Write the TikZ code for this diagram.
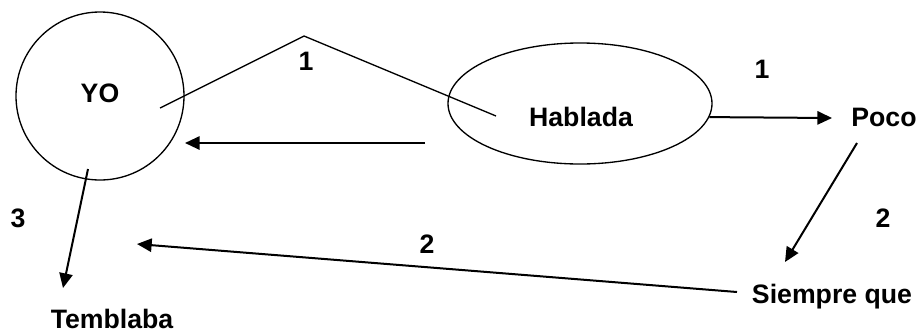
\documentclass[tikz,border=0pt]{standalone}
\usepackage{fontspec}
\setmainfont{Liberation Sans}
\usetikzlibrary{arrows.meta,shapes.geometric}

\tikzset{every picture/.style={line width=0.75pt}}
\tikzset{
  lbl/.style={anchor=base,inner sep=0.75pt,font=\fontsize{20}{24}\selectfont\bfseries},
  arr/.style={line width=1.5pt,-{Triangle[length=11pt,width=10pt]}},
  thin/.style={line width=1pt}
}

\begin{document}
\begin{tikzpicture}[x=0.75pt,y=0.75pt,yscale=-1,xscale=1]
\useasboundingbox (0,0) rectangle (919,333);

%Shape: Circle
\node [draw,thin,circle,minimum size=126pt,inner sep=0pt] (yo) at (100,96) {};
%Shape: Ellipse
\node [draw,thin,ellipse,minimum width=198pt,minimum height=90.75pt,inner sep=0pt] (hab) at (580,103.5) {};

% Text Node
\draw (100,102) node [lbl] (yotxt) {YO};
% Text Node
\draw (581,126) node [lbl] (habtxt) {Hablada};
% Text Node
\draw (884,126) node [lbl] (poco) {Poco};
% Text Node
\draw (832,303) node [lbl] (siempre) {Siempre que};
% Text Node
\draw (112,328) node [lbl] (tembl) {Temblaba};
% Text Node
\draw (306,70) node [lbl] (n1a) {1};
% Text Node
\draw (762,78) node [lbl] (n1b) {1};
% Text Node
\draw (883,227) node [lbl] (n2a) {2};
% Text Node
\draw (427,253) node [lbl] (n2b) {2};
% Text Node
\draw (18,227) node [lbl] (n3) {3};

% Connector ends
\coordinate (yoin) at (160,108);
\coordinate (peak) at (304,36);
\coordinate (habin) at (496,116);
\coordinate (habl) at (425,143);
\coordinate (yor) at (185,143);
\coordinate (pocol) at (832,118);
\coordinate (pocob) at (857,143);
\coordinate (siet) at (785,262);
\coordinate (siel) at (737,292);
\coordinate (temr) at (137,244);
\coordinate (yob) at (88,169);
\coordinate (temt) at (63,288);

%Straight Lines [1]
\draw [thin] (yoin) -- (peak) -- (habin) ;
%Straight Lines [2]
\draw [arr] (habl) -- (yor) ;
%Straight Lines [3]
\draw [arr] (hab.354) -- (pocol) ;
%Straight Lines [4]
\draw [arr] (pocob) -- (siet) ;
%Straight Lines [5]
\draw [arr] (siel) -- (temr) ;
%Straight Lines [6]
\draw [arr] (yob) -- (temt) ;

\end{tikzpicture}
\end{document}
